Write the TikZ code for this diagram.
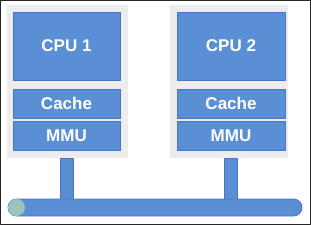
\documentclass[tikz,border=0pt]{standalone}
\usepackage{fontspec}
\setmainfont{Liberation Sans}
\definecolor{unitblue}{HTML}{5B8FD5}
\definecolor{unitedge}{HTML}{4777BE}
\definecolor{panelgray}{HTML}{ECECEC}
\definecolor{captEal}{HTML}{9CC4BF}
\begin{document}
\begin{tikzpicture}[x=1pt, y=-1pt, line join=round,
  panel/.style={fill=panelgray, draw=none, anchor=north west, outer sep=0pt},
  unit/.style={draw=unitedge, fill=unitblue, line width=0.8pt, anchor=north west,
    outer sep=0pt, inner sep=0pt, text=white,
    font=\bfseries\fontsize{17}{20}\selectfont},
  stem/.style={draw=unitedge, fill=unitblue, line width=0.8pt}
]
  \useasboundingbox (0,0) rectangle (311,225);
  \draw[black!85, line width=1pt] (0.5,0.5) rectangle (310.5,224.5);

  % grey panels
  \node[panel, minimum width=121, minimum height=153] (p1) at (7,5) {};
  \node[panel, minimum width=118, minimum height=153] (p2) at (170,5) {};

  % stems down to the bus
  \draw[stem] (60,158) rectangle (73,199);
  \draw[stem] (224,158) rectangle (237,199);

  % bus
  \draw[stem, rounded corners=8.5] (8,199) rectangle (302,216);
  \fill[captEal] (16.5,207.5) circle (8.5);

  % CPU 1
  \node[unit, minimum width=107, minimum height=68] (cpu1) at (13,12) {CPU 1};
  \node[unit, minimum width=107, minimum height=29] (cache1) at (13,89) {Cache};
  \node[unit, minimum width=107, minimum height=29] (mmu1) at (13,121) {MMU};

  % CPU 2
  \node[unit, minimum width=108, minimum height=68] (cpu2) at (177,12) {CPU 2};
  \node[unit, minimum width=108, minimum height=29] (cache2) at (177,89) {Cache};
  \node[unit, minimum width=108, minimum height=29] (mmu2) at (177,121) {MMU};
\end{tikzpicture}
\end{document}
